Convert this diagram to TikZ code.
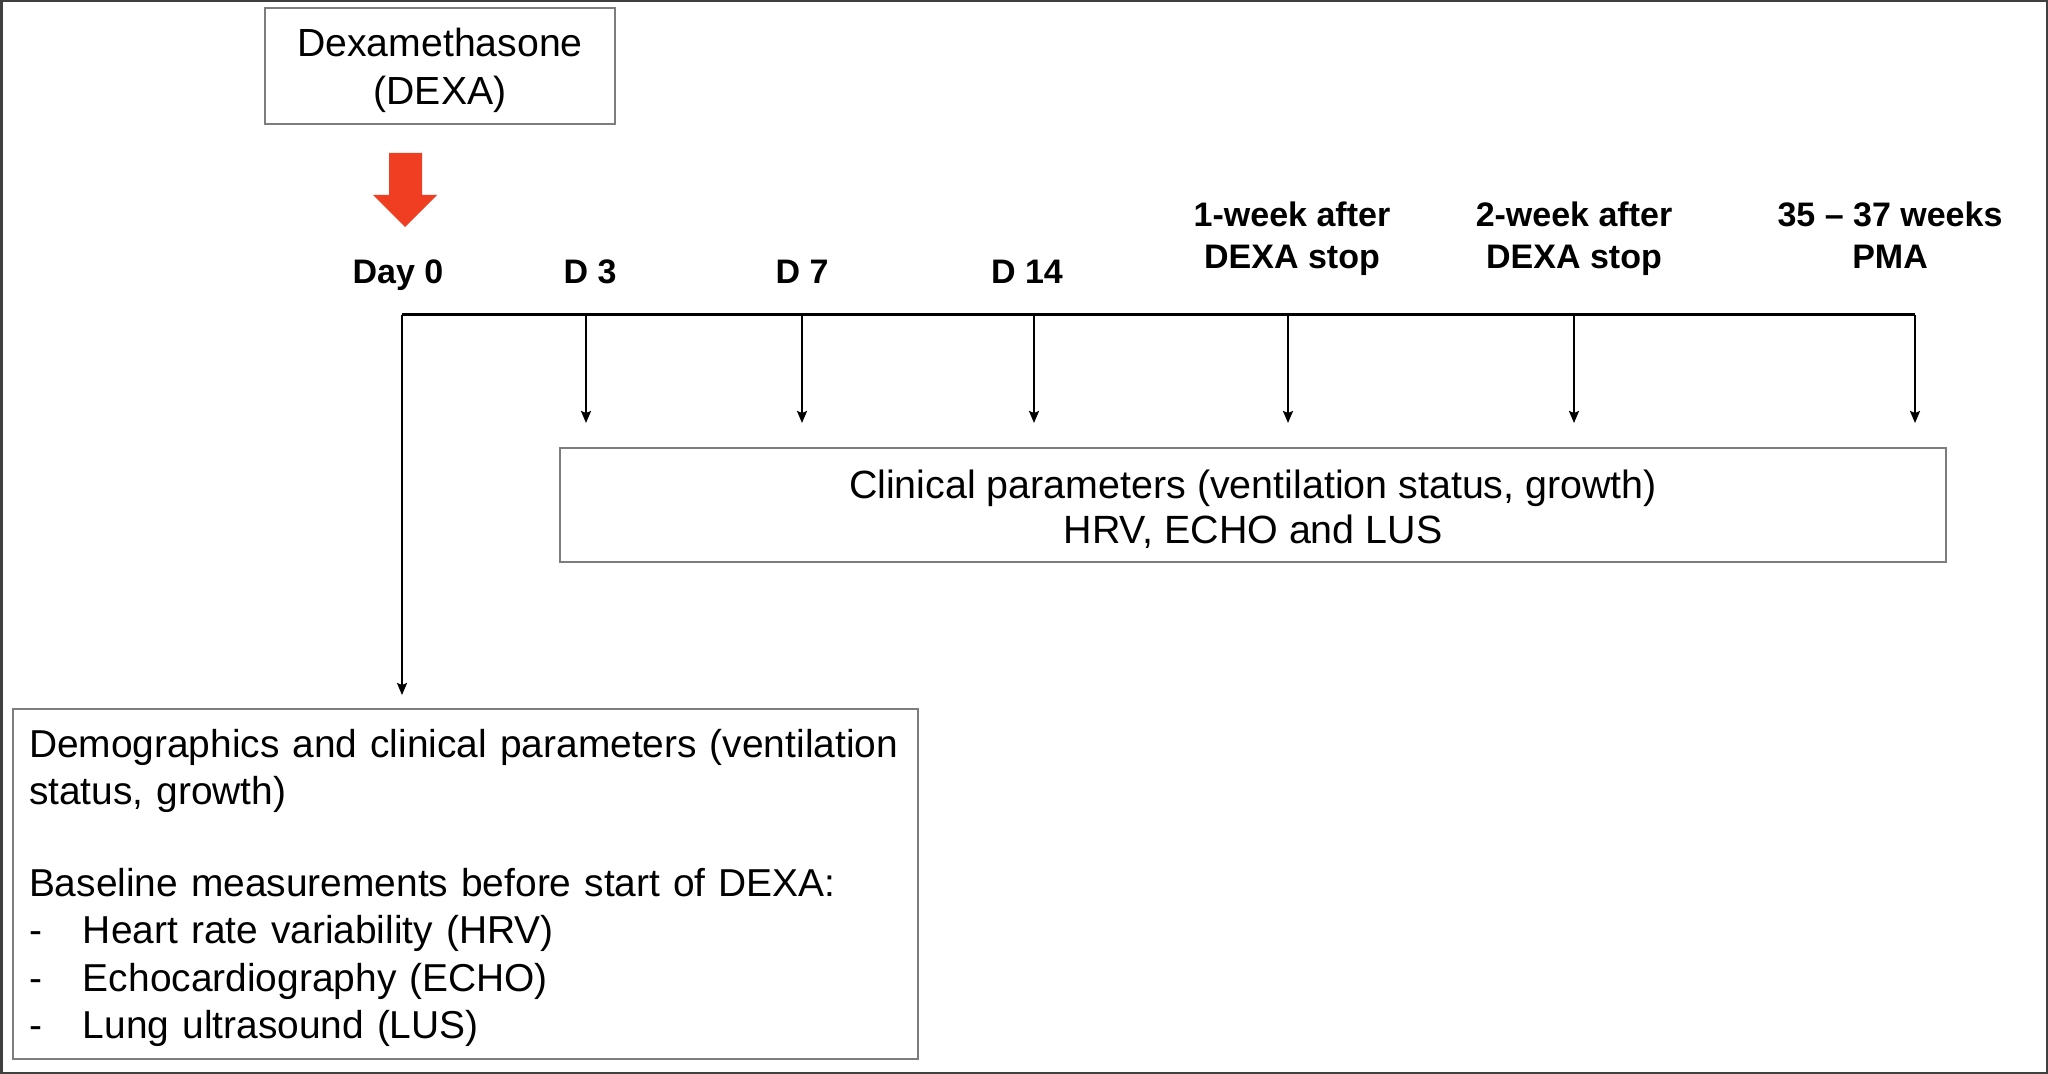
\documentclass[tikz,border=0pt]{standalone}
\usepackage{fontspec}
\setmainfont{Liberation Sans}
\usetikzlibrary{arrows.meta, positioning}

\definecolor{dexared}{RGB}{240,62,34}
\definecolor{boxgray}{RGB}{125,125,125}

\begin{document}
\begin{tikzpicture}[x=0.5pt, y=-0.5pt]
\useasboundingbox (0,0) rectangle (2048,1074);
\draw [line width=1.5pt, black!75] (1,1) rectangle (2047,1073);

\begin{scope}[every node/.style={rectangle, draw=boxgray, line width=1pt, fill=white}]
    \node (dexa) at (440, 66) [minimum width=175pt, minimum height=58pt] {};
    \node (clin) at (1253, 505) [minimum width=693pt, minimum height=57pt] {};
    \node (base) at (465.5, 884) [minimum width=452.5pt, minimum height=175pt] {};
\end{scope}

\begin{scope}[every node/.style={inner sep=0pt, yshift=-2pt}]
    \node (dexatext) at (dexa.center) [align=center, font=\fontsize{19.6}{24}\selectfont]
        {Dexamethasone\\(DEXA)};
    \node (clintext) at (clin.center) [align=center, font=\fontsize{19.7}{22.5}\selectfont]
        {Clinical parameters (ventilation status, growth)\\HRV, ECHO and LUS};
    \node (basetext) at (base.center) [text width=436.5pt, align=left,
        font=\fontsize{19.45}{23.75}\selectfont]
        {Demographics and clinical parameters (ventilation\\status, growth)\\[22pt]
         Baseline measurements before start of DEXA:\\
         \makebox[27pt][l]{-}Heart rate variability (HRV)\\
         \makebox[27pt][l]{-}Echocardiography (ECHO)\\
         \makebox[27pt][l]{-}Lung ultrasound (LUS)};
\end{scope}

\begin{scope}[every node/.style={font=\bfseries\fontsize{17}{21}\selectfont, align=center, anchor=base}]
    \node (day0) at (398, 284) {Day 0};
    \node (day3) at (590, 284) {D 3};
    \node (day7) at (802, 284) {D 7};
    \node (day14) at (1027, 284) {D 14};
    \node (wk1) at (1292, 269) {1-week after\\DEXA stop};
    \node (wk2) at (1574, 269) {2-week after\\DEXA stop};
    \node (pma) at (1890, 269) {35 -- 37 weeks\\PMA};
\end{scope}

% timeline
\coordinate (t0) at (402, 315);
\coordinate (t1) at (586, 315);
\coordinate (t2) at (802, 315);
\coordinate (t3) at (1034, 315);
\coordinate (t4) at (1288, 315);
\coordinate (t5) at (1574, 315);
\coordinate (t6) at (1915, 315);
\draw [line width=1.5pt] (t0) -- (t6);

\fill [dexared] (389,153) -- (422,153) -- (422,195) -- (437,195) -- (405,227)
    -- (373,195) -- (389,195) -- cycle;

\begin{scope}[>={Stealth[length=6pt, width=5pt, inset=1pt]},
              every edge/.style={draw=black, line width=1pt}]
    \path [->, shorten >=6.5pt] (t0) edge (t0 |- base.north);
    \foreach \t in {t1, t2, t3, t4, t5, t6}
        \path [->, shorten >=12pt] (\t) edge (\t |- clin.north);
\end{scope}
\end{tikzpicture}
\end{document}
